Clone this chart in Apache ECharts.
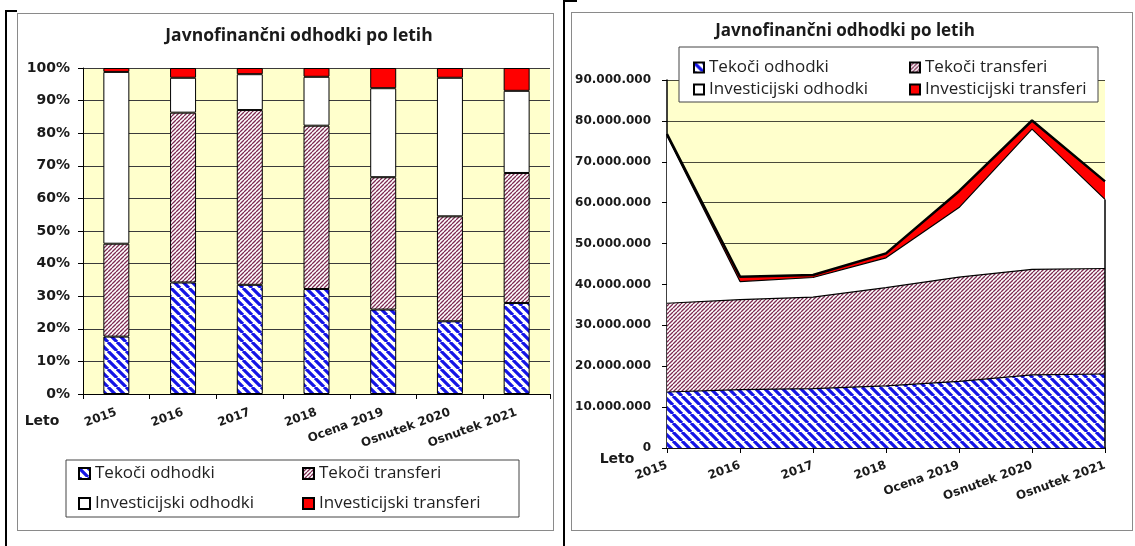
<!DOCTYPE html>
<html>
<head>
<meta charset="utf-8">
<script src="https://cdn.jsdelivr.net/npm/echarts/dist/echarts.min.js"></script>
<style>
html,body{margin:0;padding:0;background:#fff;}
#wrap{position:relative;width:1135px;height:546px;overflow:hidden;background:#fff;}
#left{position:absolute;left:0;top:0;width:565px;height:546px;}
#right{position:absolute;left:565px;top:0;width:570px;height:546px;}
.frame{position:absolute;border:1px solid #8a8a8a;box-sizing:border-box;pointer-events:none;}
.bl{position:absolute;background:#000;pointer-events:none;}
</style>
</head>
<body>
<div id="wrap">
  <div id="left"></div>
  <div id="right"></div>
  <div class="frame" style="left:17px;top:13px;width:537px;height:518px;"></div>
  <div class="frame" style="left:571px;top:12px;width:562px;height:519px;"></div>
  <div class="bl" style="left:5px;top:10px;width:2px;height:536px;"></div>
  <div class="bl" style="left:563px;top:0px;width:2px;height:546px;"></div>
  <div class="bl" style="left:5px;top:10px;width:12px;height:2px;"></div>
  <div class="bl" style="left:565px;top:0px;width:12px;height:2px;"></div>
</div>
<script>
// ---------- data ----------
const categories = ['2015', '2016', '2017', '2018', 'Ocena 2019', 'Osnutek 2020', 'Osnutek 2021'];
const seriesNames = ['Tekoči odhodki', 'Tekoči transferi', 'Investicijski odhodki', 'Investicijski transferi'];
const chartTitle = 'Javnofinančni odhodki po letih';
const axisName = 'Leto';

// left chart: shares (%)
const shareTekociOdhodki        = [17.6, 34.2, 33.5, 32.2, 25.9, 22.3, 27.9];
const shareTekociTransferi      = [28.5, 52.1, 53.6, 50.1, 40.6, 32.2, 39.9];
const shareInvesticijskiOdhodki = [52.7, 10.7, 11.0, 15.0, 27.3, 42.5, 25.2];
const shareInvesticijskiTransf  = [1.2, 3.0, 1.9, 2.7, 6.2, 3.0, 7.0];

// right chart: amounts (EUR)
const amtTekociOdhodki        = [13700000, 14300000, 14500000, 15200000, 16300000, 17900000, 18100000];
const amtTekociTransferi      = [21700000, 22000000, 22400000, 24000000, 25500000, 25800000, 25800000];
const amtInvesticijskiOdhodki = [40900000, 4400000, 4800000, 7300000, 17000000, 34300000, 16900000];
const amtInvesticijskiTransf  = [500000, 1200000, 600000, 1100000, 4000000, 2100000, 4400000];

// ---------- styles ----------
function hatch(period, lineW, color, dir) {
  const c = document.createElement('canvas');
  c.width = period; c.height = period;
  const g = c.getContext('2d');
  g.fillStyle = '#ffffff'; g.fillRect(0, 0, period, period);
  g.strokeStyle = color; g.lineWidth = lineW;
  g.beginPath();
  for (let i = -1; i <= 1; i++) {
    if (dir === 'down') { g.moveTo(i * period, 0); g.lineTo(i * period + period, period); }
    else { g.moveTo(i * period, period); g.lineTo(i * period + period, 0); }
  }
  g.stroke();
  return { image: c, repeat: 'repeat' };
}
const fills = [
  hatch(9, 3.2, '#1414e6', 'down'),
  hatch(4, 1.3, '#7d2a52', 'up'),
  '#ffffff',
  '#ff0000'
];
const plotBg = '#ffffcc';
const axisFont = { fontFamily: 'DejaVu Sans', fontWeight: 'bold', color: '#1a1a1a' };
const legendFont = { fontFamily: 'Open Sans', fontSize: 17, color: '#222', lineHeight: 19 };

function dotted(v) {
  if (v === 0) return '0';
  return String(v).replace(/\B(?=(\d{3})+(?!\d))/g, '.');
}

// ---------- left chart ----------
const left = echarts.init(document.getElementById('left'), null, { renderer: 'canvas' });
const shares = [shareTekociOdhodki, shareTekociTransferi, shareInvesticijskiOdhodki, shareInvesticijskiTransf];
left.setOption({
  animation: false,
  graphic: [
    { type: 'text', x: 299, y: 36, style: { text: chartTitle, textAlign: 'center', textVerticalAlign: 'middle', font: 'bold 17.5px "Open Sans"', fill: '#1a1a1a' } },
    { type: 'text', x: 42, y: 421, style: { text: axisName, textAlign: 'center', textVerticalAlign: 'middle', font: 'bold 14px "DejaVu Sans"', fill: '#1a1a1a' } }
  ],
  grid: { left: 83, top: 68, width: 467, height: 326, show: true, backgroundColor: plotBg, borderWidth: 0, outerBoundsMode: 'none', containLabel: false },
  legend: {
    left: 66, top: 460, itemWidth: 11, itemHeight: 11, itemGap: 11, width: 440,
    icon: 'rect', borderColor: '#444', borderWidth: 1, padding: [4, 12, 4, 12],
    backgroundColor: '#fff', textStyle: legendFont,
    data: [
      { name: seriesNames[0], textStyle: { width: 196 } },
      { name: seriesNames[1], textStyle: { width: 188 } },
      { name: seriesNames[2], textStyle: { width: 196 } },
      { name: seriesNames[3], textStyle: { width: 188 } }
    ]
  },
  xAxis: {
    type: 'category', data: categories,
    axisLine: { show: true, lineStyle: { color: '#000', width: 1 } },
    axisTick: { show: true, length: 5, lineStyle: { color: '#000' } },
    axisLabel: Object.assign({ rotate: 20, interval: 0, fontSize: 12, margin: 18 }, axisFont),
    splitLine: { show: false }
  },
  yAxis: {
    type: 'value', min: 0, max: 100, interval: 10,
    axisLine: { show: true, lineStyle: { color: '#000', width: 1 } },
    axisTick: { show: true, length: 5, lineStyle: { color: '#000' } },
    axisLabel: Object.assign({ formatter: '{value}%', fontSize: 14, margin: 13 }, axisFont),
    splitLine: { show: true, lineStyle: { color: '#3a3a3a', width: 1 } }
  },
  series: seriesNames.map((n, i) => ({
    name: n, type: 'bar', stack: 'share', barWidth: 26, data: shares[i],
    itemStyle: { color: fills[i], borderColor: '#000', borderWidth: 1 }
  }))
});

// ---------- right chart ----------
const right = echarts.init(document.getElementById('right'), null, { renderer: 'canvas' });
const amounts = [amtTekociOdhodki, amtTekociTransferi, amtInvesticijskiOdhodki, amtInvesticijskiTransf];
const last = categories.length - 1;
const whiteTopLast = amtTekociOdhodki[last] + amtTekociTransferi[last] + amtInvesticijskiOdhodki[last];
right.setOption({
  animation: false,
  graphic: [
    { type: 'text', x: 280, y: 31, style: { text: chartTitle, textAlign: 'center', textVerticalAlign: 'middle', font: 'bold 17px "Open Sans"', fill: '#1a1a1a' } },
    { type: 'text', x: 52, y: 459, style: { text: axisName, textAlign: 'center', textVerticalAlign: 'middle', font: 'bold 14px "DejaVu Sans"', fill: '#1a1a1a' } }
  ],
  grid: { left: 102, top: 80, width: 438, height: 368, show: true, backgroundColor: plotBg, borderWidth: 0, outerBoundsMode: 'none', containLabel: false },
  legend: {
    left: 114, top: 47, itemWidth: 10, itemHeight: 10, itemGap: 3, width: 420,
    icon: 'rect', borderColor: '#444', borderWidth: 1, padding: [11, 6, 3, 14],
    backgroundColor: '#fff', textStyle: legendFont,
    data: [
      { name: seriesNames[0], textStyle: { width: 197 } },
      { name: seriesNames[1], textStyle: { width: 167 } },
      { name: seriesNames[2], textStyle: { width: 197 } },
      { name: seriesNames[3], textStyle: { width: 167 } }
    ]
  },
  xAxis: {
    type: 'category', data: categories, boundaryGap: false,
    axisLine: { show: true, lineStyle: { color: '#000', width: 1.5 } },
    axisTick: { show: true, length: 5, lineStyle: { color: '#000' } },
    axisLabel: Object.assign({ rotate: 20, interval: 0, fontSize: 12, margin: 17 }, axisFont),
    splitLine: { show: false }
  },
  yAxis: {
    type: 'value', min: 0, max: 90000000, interval: 10000000,
    axisLine: { show: true, lineStyle: { color: '#000', width: 1.5 } },
    axisTick: { show: true, length: 5, lineStyle: { color: '#000' } },
    axisLabel: Object.assign({ formatter: dotted, fontSize: 12, margin: 16 }, axisFont),
    splitLine: { show: true, lineStyle: { color: '#4a4a3a', width: 1 } }
  },
  series: seriesNames.map((n, i) => {
    const s = {
      name: n, type: 'line', stack: 'amount', data: amounts[i], symbol: 'none', showSymbol: false,
      lineStyle: { color: '#000', width: i === 3 ? 2.5 : 1.2 },
      itemStyle: { color: fills[i], borderColor: '#000', borderWidth: 1 },
      areaStyle: { color: fills[i], opacity: 1 }
    };
    if (i === 2) {
      s.markLine = {
        silent: true, symbol: ['none', 'none'], label: { show: false },
        lineStyle: { color: '#000', width: 1.5, type: 'solid' },
        data: [[{ coord: [categories[last], 0] }, { coord: [categories[last], whiteTopLast] }]]
      };
    }
    return s;
  })
});
</script>
</body>
</html>
